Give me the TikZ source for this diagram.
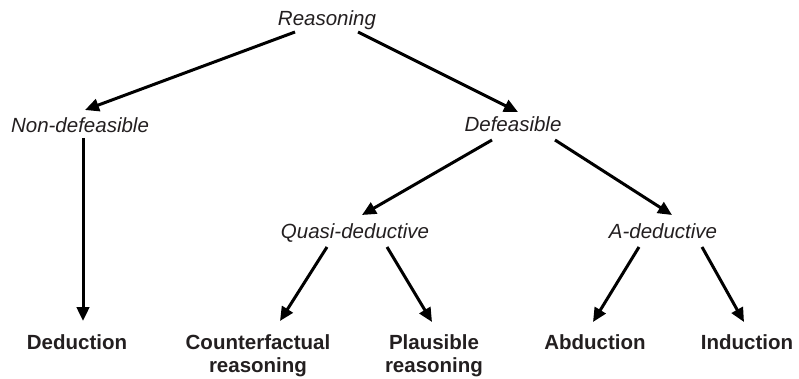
\documentclass[tikz,border=0pt]{standalone}
\usepackage{fontspec}
\setmainfont{Liberation Sans}
\usetikzlibrary{arrows.meta,calc}
\definecolor{txt}{HTML}{231F20}
\tikzset{
  cat/.style={font=\fontsize{20.5}{23}\selectfont\itshape, text=txt, inner sep=0pt, anchor=base},
  leaf/.style={font=\fontsize{20.5}{23}\selectfont\bfseries, text=txt, inner sep=0pt, anchor=base},
  leaf2/.style={font=\fontsize{20.5}{23}\selectfont\bfseries, text=txt, inner sep=0pt, anchor=north, align=center},
  arr/.style={line width=3pt, -{Triangle[length=14pt,width=12.5pt]}}
}
\begin{document}
\begin{tikzpicture}[x=1pt,y=-1pt]
\useasboundingbox (0,0) rectangle (799,379);
\node[cat] (r) at (327,26) {Reasoning};
\node[cat] (nd) at (80,133) {Non-defeasible};
\node[cat] (d) at (513,132) {Defeasible};
\node[cat] (q) at (355,238) {Quasi-deductive};
\node[cat] (a) at (663,238) {A-deductive};
\node[leaf] (ded) at (77,349) {Deduction};
\node[leaf2] (cf) at (258,334) {Counterfactual\\reasoning};
\node[leaf2] (pl) at (434,334) {Plausible\\reasoning};
\node[leaf] (ab) at (595,349) {Abduction};
\node[leaf] (in) at (747,349) {Induction};

\draw[arr] ($(r.base)+(-32,6)$) -- ($(nd.base)+(5,-23)$);
\draw[arr] ($(r.base)+(31,6)$) -- ($(d.base)+(5,-20)$);
\draw[arr] ($(nd.base)+(3,5)$) -- ($(ded.base)+(6,-28)$);
\draw[arr] ($(d.base)+(-21,8)$) -- ($(q.base)+(7,-23)$);
\draw[arr] ($(d.base)+(42,8)$) -- ($(a.base)+(9,-23)$);
\draw[arr] ($(q.base)+(-28,9)$) -- ($(cf.north)+(22,-13)$);
\draw[arr] ($(q.base)+(32,9)$) -- ($(pl.north)+(-2,-12)$);
\draw[arr] ($(a.base)+(-24,9)$) -- ($(ab.base)+(-2,-27)$);
\draw[arr] ($(a.base)+(39,9)$) -- ($(in.base)+(-3,-27)$);
\end{tikzpicture}
\end{document}
